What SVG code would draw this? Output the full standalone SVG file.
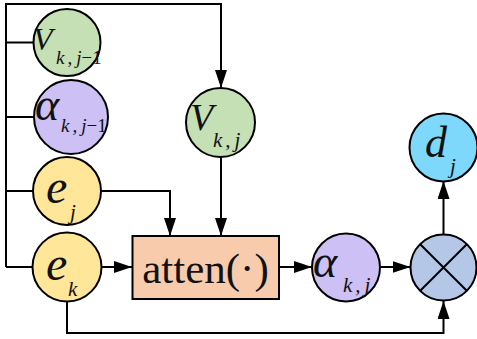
<svg xmlns="http://www.w3.org/2000/svg" width="477" height="339" viewBox="0 0 477 339">
<defs>
<style>
.ln{fill:none;stroke:#000;stroke-width:2}
.nd{stroke:#000;stroke-width:2}
.m{font-family:"Liberation Serif","Times New Roman",serif;font-style:italic;fill:#111}
.r{font-family:"Liberation Serif","Times New Roman",serif;fill:#111}
</style>
<marker id="ah" viewBox="0 0 18 12" refX="18" refY="6" markerWidth="18" markerHeight="12" markerUnits="userSpaceOnUse" orient="auto">
<path d="M0,0 L18,6 L0,12 z" fill="#000"/>
</marker>
</defs>
<rect width="477" height="339" fill="#fff"/>
<g id="connectors">
<path class="ln" d="M6,267 V4 H221 V88" marker-end="url(#ah)"/>
<path class="ln" d="M6,42.5 H33"/>
<path class="ln" d="M6,117 H34"/>
<path class="ln" d="M6,191 H33"/>
<path class="ln" d="M6,267 H33"/>
<path class="ln" d="M101,191 H170 V236" marker-end="url(#ah)"/>
<path class="ln" d="M221,157 V236" marker-end="url(#ah)"/>
<path class="ln" d="M101,267 H132" marker-end="url(#ah)"/>
<path class="ln" d="M279,267 H312" marker-end="url(#ah)"/>
<path class="ln" d="M380,267 H410.5" marker-end="url(#ah)"/>
<path class="ln" d="M443.5,234 V181" marker-end="url(#ah)"/>
<path class="ln" d="M67,301 V333 H443.5 V301" marker-end="url(#ah)"/>
</g>
<g id="V_kj1">
<circle class="nd" cx="67" cy="42.5" r="33.5" fill="#C5E0B4"/>
<text class="m" x="33" y="50" font-size="32">V</text>
<text class="m" x="56" y="64" font-size="19">k<tspan dx="3">,</tspan><tspan dx="4">j</tspan><tspan font-style="normal">−1</tspan></text>
</g>
<g id="alpha_kj1">
<circle class="nd" cx="71" cy="117" r="37" fill="#CDC0F5"/>
<text class="m" x="35" y="120" font-size="46">α</text>
<text class="m" x="61" y="132" font-size="19">k<tspan dx="3">,</tspan><tspan dx="4">j</tspan><tspan font-style="normal">−1</tspan></text>
</g>
<g id="e_j">
<circle class="nd" cx="67" cy="191" r="34" fill="#FFE699"/>
<text class="m" x="46" y="203" font-size="48">e</text>
<text class="m" x="70" y="219" font-size="21">j</text>
</g>
<g id="e_k">
<circle class="nd" cx="67" cy="267" r="34.5" fill="#FFE699"/>
<text class="m" x="46" y="280" font-size="48">e</text>
<text class="m" x="68" y="296" font-size="21">k</text>
</g>
<g id="V_kj">
<circle class="nd" cx="220.5" cy="122.5" r="34.5" fill="#C5E0B4"/>
<text class="m" x="190" y="130" font-size="38">V</text>
<text class="m" x="213" y="147" font-size="21">k<tspan dx="3">,</tspan><tspan dx="4">j</tspan></text>
</g>
<g id="atten">
<rect class="nd" x="132.5" y="236" width="146.5" height="63" fill="#F8CBAD"/>
<text class="r" x="205.5" y="283" font-size="43" text-anchor="middle">atten(·)</text>
</g>
<g id="alpha_kj">
<circle class="nd" cx="346" cy="267.5" r="34" fill="#CDC0F5"/>
<text class="m" x="313" y="277" font-size="46">α</text>
<text class="m" x="343" y="292" font-size="21">k<tspan dx="3">,</tspan><tspan dx="4">j</tspan></text>
</g>
<g id="mult">
<circle class="nd" cx="443.5" cy="267.5" r="33" fill="#B4C7E7"/>
<path class="ln" d="M420.2,244.2 L466.8,290.8 M466.8,244.2 L420.2,290.8"/>
</g>
<g id="d_j">
<circle class="nd" cx="443.5" cy="147.5" r="34" fill="#7DD8FB"/>
<text class="m" x="425" y="157" font-size="44">d</text>
<text class="m" x="450" y="173" font-size="21">j</text>
</g>
</svg>
